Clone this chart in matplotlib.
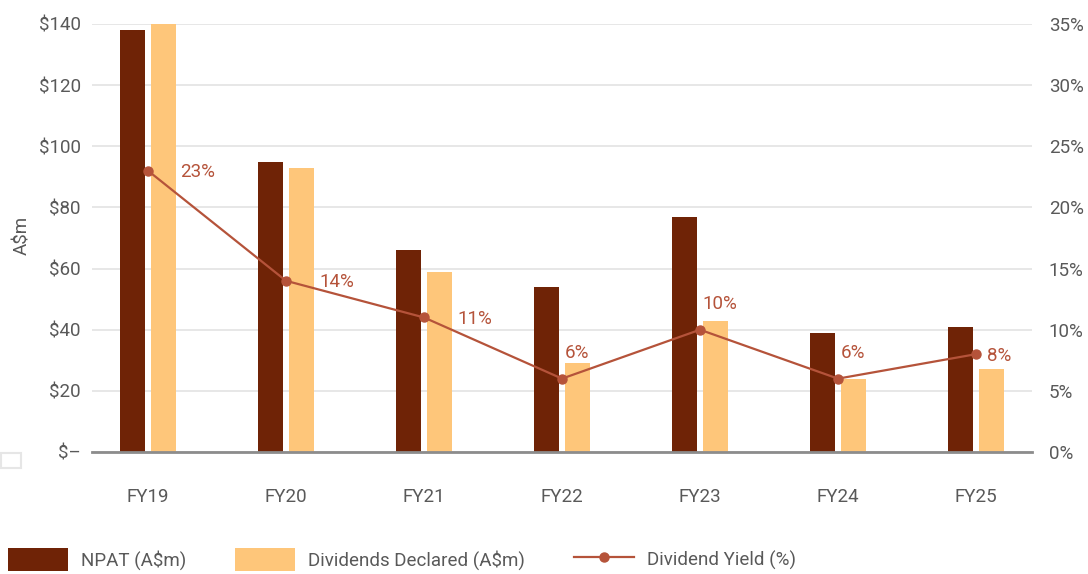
import matplotlib
matplotlib.use("Agg")
import matplotlib.pyplot as plt
import numpy as np
from matplotlib.patches import Rectangle, Patch
from matplotlib.lines import Line2D

years = ["FY19", "FY20", "FY21", "FY22", "FY23", "FY24", "FY25"]
npat = [138, 95, 66, 54, 77, 39, 41]
dividends = [140, 93, 59, 29, 43, 24, 27]
yield_pct = [23, 14, 11, 6, 10, 6, 8]
left_ticks = [0, 20, 40, 60, 80, 100, 120, 140]
left_labels = ["$–", "$20", "$40", "$60", "$80", "$100", "$120", "$140"]
right_ticks = [0, 5, 10, 15, 20, 25, 30, 35]

C_NPAT = "#6F2306"
C_DIV = "#FEC67A"
C_LINE = "#B5533A"
C_TEXT = "#595959"
C_GRID = "#E0E0E0"

plt.rcParams["font.family"] = ["Roboto", "DejaVu Sans"]
FS = 13.5

fig = plt.figure(figsize=(10.88, 5.74), dpi=100)
ax = fig.add_axes([92 / 1088, 1 - 452 / 574, 940 / 1088, 428 / 574])

x = np.arange(len(years))
w = 0.181
off = 0.114
ax.bar(x - off, npat, width=w, color=C_NPAT, zorder=2)
ax.bar(x + off, dividends, width=w, color=C_DIV, zorder=2)

ax.set_xlim(-0.406, len(years) - 1 + 0.406)
ax.set_ylim(0, 140)
ax.set_yticks(left_ticks)
ax.set_yticklabels(left_labels)
ax.set_xticks(x)
ax.set_xticklabels(years)
ax.tick_params(axis="y", length=0, pad=8, labelsize=FS, labelcolor=C_TEXT)
ax.tick_params(axis="x", length=0, pad=26, labelsize=FS, labelcolor=C_TEXT)
ax.grid(axis="y", color=C_GRID, linewidth=1.1, zorder=0)
for s in ["top", "right", "left"]:
    ax.spines[s].set_visible(False)
ax.spines["bottom"].set_color("#8C8C8C")
ax.spines["bottom"].set_linewidth(2)
ax.spines["bottom"].set_zorder(3)

ax2 = ax.twinx()
ax2.set_ylim(0, 35)
ax2.set_yticks(right_ticks)
ax2.set_yticklabels([f"{v}%" for v in right_ticks])
ax2.tick_params(axis="y", length=0, pad=12, labelsize=FS, labelcolor=C_TEXT)
for s in ["top", "right", "left", "bottom"]:
    ax2.spines[s].set_visible(False)
ax2.plot(x, yield_pct, color=C_LINE, linewidth=1.6, marker="o", markersize=6.5, zorder=4)

# value labels for the yield line: (dx, dy) in points, text anchored at its left edge
label_offsets = [(23, -1), (24, -1), (24, -1), (2, 12), (2, 12), (2, 12), (8, -1)]
for xi, v, (dx, dy) in zip(x, yield_pct, label_offsets):
    ax2.annotate(f"{v}%", (xi, v), xytext=(dx, dy), textcoords="offset points",
                 ha="left", va="bottom" if dy > 0 else "center",
                 fontsize=FS, color=C_LINE)

fig.text(22 / 1088, 1 - 235 / 574, "A$m", rotation=90, ha="center", va="center",
         fontsize=FS, color=C_TEXT)

# small outlined box at the lower left
fig.add_artist(Rectangle((1 / 1088, 1 - 468 / 574), 20 / 1088, 15 / 574,
                         transform=fig.transFigure, fill=False,
                         edgecolor="#E6E6E6", linewidth=1.5))

handles = [
    Patch(facecolor=C_NPAT, edgecolor="none", label="NPAT (A$m)"),
    Patch(facecolor=C_DIV, edgecolor="none", label="Dividends Declared (A$m)"),
    Line2D([0], [0], color=C_LINE, linewidth=1.6, marker="o", markersize=6.5,
           label="Dividend Yield (%)"),
]
leg = fig.legend(handles=handles, loc="upper left",
                 bbox_to_anchor=(8 / 1088, 1 - 548 / 574), ncol=3, frameon=False,
                 borderpad=0, borderaxespad=0, handlelength=3.2, handleheight=1.5,
                 handletextpad=0.7, columnspacing=2.6, fontsize=FS)
for t in leg.get_texts():
    t.set_color(C_TEXT)

fig.savefig("out.png", dpi=100)
